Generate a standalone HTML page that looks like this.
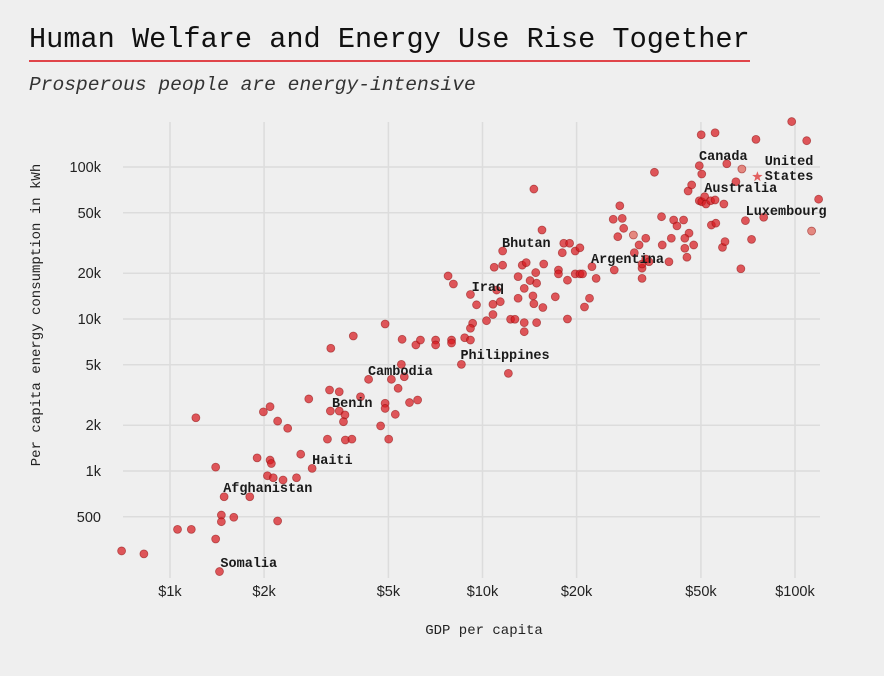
<!DOCTYPE html>
<html><head><meta charset="utf-8">
<style>
html,body{margin:0;padding:0;background:#efefef;}
body{width:884px;height:676px;overflow:hidden;position:relative;}
svg{position:absolute;left:0;top:0;}
</style></head>
<body>
<svg id="chart" width="884" height="676">
  <rect x="0" y="0" width="884" height="676" fill="#efefef"/>
  <text x="29" y="47" font-family="Liberation Mono, monospace" font-size="28.6" fill="#111">Human Welfare and Energy Use Rise Together</text>
  <line x1="29" y1="61" x2="750" y2="61" stroke="#e0454a" stroke-width="2"/>
  <text x="29" y="90" font-family="Liberation Mono, monospace" font-style="italic" font-size="19.6" fill="#333">Prosperous people are energy-intensive</text>
  <g id="grid"></g>
  <g id="axes"></g>
  <g id="points"></g>
  <g id="labels"></g>
  <text x="484" y="634" text-anchor="middle" font-family="Liberation Mono, monospace" font-size="14" fill="#222">GDP per capita</text>
  <text transform="translate(40,315) rotate(-90)" text-anchor="middle" font-family="Liberation Mono, monospace" font-size="14" fill="#222">Per capita energy consumption in kWh</text>
</svg>
<script>
const xTicks = [1000, 2000, 5000, 10000, 20000, 50000, 100000];
const xTickLabels = ["$1k","$2k","$5k","$10k","$20k","$50k","$100k"];
const yTicks = [500, 1000, 2000, 5000, 10000, 20000, 50000, 100000];
const yTickLabels = ["500","1k","2k","5k","10k","20k","50k","100k"];
const gdp = [700,825,1057,1170,1210,1400,1400,1440,1460,1460,1490,1600,1800,1900,1990,2090,2090,2110,2050,2140,2210,2210,2300,2380,2540,2620,2850,2780,3190,3260,3240,3270,3480,3480,3630,3590,3640,3820,3860,4070,4320,4720,4880,4880,4880,5010,5110,5260,5370,5500,5530,5620,5840,6200,6120,6330,7080,7080,7960,7960,7760,8070,8770,9150,8560,9150,9300,9150,9570,10300,10800,10800,10900,11400,11100,11600,11600,12100,12300,12700,13000,13000,13400,13600,13600,13600,13800,14200,14500,14600,14600,14900,14800,14900,15500,15600,15700,17500,17500,17100,18000,18200,19000,18700,18700,19800,20500,19800,20500,20900,21200,22000,22400,23100,26200,26400,27100,27500,28000,28300,30400,31700,30600,32400,32400,32400,33300,33300,34100,35500,37400,37600,39500,40900,41900,40200,44000,45800,44400,44400,45100,47400,45500,46700,49400,50300,50100,55500,49400,50300,51400,51900,53700,55500,59200,54000,55800,58600,59700,60500,64700,67100,67600,69400,72600,75000,79400,97600,109000,113000,119000];
const energy = [298,285,413,413,2240,1060,357,218,513,464,677,496,677,1220,2450,2650,1180,1120,931,903,2130,469,873,1910,903,1290,1040,2980,1620,2480,3410,6420,3320,2480,2340,2110,1600,1620,7730,3080,4010,1980,2790,2580,9270,1620,4010,2360,3500,5030,7350,4170,2820,2930,6750,7270,7270,6750,7270,6950,19200,17000,7530,7270,5030,14500,9370,8690,12400,9750,12500,10700,21900,13000,15500,22600,28000,4390,9960,9960,13700,19000,22600,15900,9470,8250,23500,17900,14200,12600,71600,9470,20200,17200,38500,11900,23000,21000,19800,14000,27300,31500,31500,18000,10000,28000,29400,19800,19800,19800,12000,13700,22100,18500,45300,21000,34800,55600,45900,39500,35700,30700,27300,18500,21600,23000,34000,24800,23800,92300,47100,30700,23800,44800,41000,34000,44800,36700,34000,29200,25500,30700,69500,76200,102000,89900,163000,168000,60000,59100,63800,57100,60000,60700,57100,41500,42700,29600,32300,105000,80000,21400,97000,44400,33400,152000,46700,199000,149000,37900,61400];
const lightIdx = [120, 162, 169];
const labelNames = ["Canada","United","States","Australia","Luxembourg","Bhutan","Argentina","Iraq","Philippines","Cambodia","Benin","Haiti","Afghanistan","Somalia"];
const labelGdp = [49300,80000,80000,51250,69500,11550,22250,9230,8500,4300,3300,2850,1480,1450];
const labelEnergy = [111000,103000,82000,68500,48300,29800,23400,15300,5450,4280,2640,1110,728,233];
const usGdp = 75800, usEnergy = 86300;

const NS = "http://www.w3.org/2000/svg";
const xS = v => 170 + 312.5 * Math.log10(v / 1000);
const yS = v => 471 - 152 * Math.log10(v / 1000);
const mk = (tag, attrs, parent) => { const e = document.createElementNS(NS, tag); for (const k in attrs) e.setAttribute(k, attrs[k]); parent.appendChild(e); return e; };
const grid = document.getElementById('grid'), axes = document.getElementById('axes'), pts = document.getElementById('points'), lab = document.getElementById('labels');

xTicks.forEach((t, i) => {
  const l = mk('line', {x1: xS(t), x2: xS(t), y1: 122, y2: 578, stroke: '#dcdcdc', 'stroke-width': 1.5}, grid);
  
  
  const tx = mk('text', {x: xS(t), y: 596, 'text-anchor': 'middle', 'font-family': 'Liberation Sans, sans-serif', 'font-size': 14.5, fill: '#222'}, axes);
  tx.textContent = xTickLabels[i];
  
  
});
yTicks.forEach((t, i) => {
  const l = mk('line', {x1: 123, x2: 820, y1: yS(t), y2: yS(t), stroke: '#dcdcdc', 'stroke-width': 1.5}, grid);
  
  
  const tx = mk('text', {x: 101, y: yS(t) + 5, 'text-anchor': 'end', 'font-family': 'Liberation Sans, sans-serif', 'font-size': 14.5, fill: '#222'}, axes);
  tx.textContent = yTickLabels[i];
  
  
});
gdp.forEach((g, i) => {
  const light = lightIdx.includes(i);
  const c = mk('circle', {cx: xS(g), cy: yS(energy[i]), r: 4, fill: light ? 'rgba(225,110,100,0.8)' : 'rgba(215,25,30,0.72)', stroke: 'rgba(140,15,15,0.55)', 'stroke-width': 0.8}, pts);
  
  
});
{
  const cx = xS(usGdp), cy = yS(usEnergy);
  let d = '';
  for (let k = 0; k < 10; k++) { const r = k % 2 ? 2.2 : 5.5; const a = -Math.PI / 2 + k * Math.PI / 5; d += (k ? 'L' : 'M') + (cx + r * Math.cos(a)).toFixed(1) + ',' + (cy + r * Math.sin(a)).toFixed(1); }
  const s = mk('path', {d: d + 'Z', fill: 'rgba(222,60,60,0.8)'}, pts);
  
  
}
labelNames.forEach((n, i) => {
  const t = mk('text', {x: xS(labelGdp[i]), y: yS(labelEnergy[i]), 'font-family': 'Liberation Mono, monospace', 'font-size': 13.5, 'font-weight': 'bold', fill: '#1a1a1a'}, lab);
  t.textContent = n;
  
  
});
</script>
</body></html>
